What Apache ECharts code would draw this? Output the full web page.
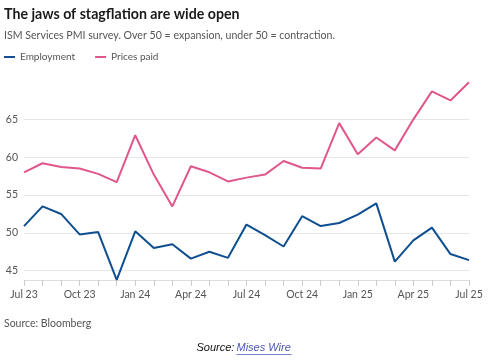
<!DOCTYPE html>
<html>
<head>
<meta charset="utf-8">
<script src="https://cdn.jsdelivr.net/npm/echarts@6/dist/echarts.min.js"></script>
<style>
html,body{margin:0;padding:0;background:#fff;}
#chart{width:488px;height:364px;}
</style>
</head>
<body>
<div id="chart"></div>
<script>
const months = ["Jul 23","Aug 23","Sep 23","Oct 23","Nov 23","Dec 23","Jan 24","Feb 24","Mar 24","Apr 24","May 24","Jun 24","Jul 24","Aug 24","Sep 24","Oct 24","Nov 24","Dec 24","Jan 25","Feb 25","Mar 25","Apr 25","May 25","Jun 25","Jul 25"];
const employment = [50.9,53.5,52.5,49.8,50.1,43.8,50.2,48.0,48.5,46.6,47.5,46.7,51.1,49.7,48.2,52.2,50.9,51.3,52.4,53.9,46.2,49.0,50.7,47.2,46.4];
const pricesPaid = [58.0,59.2,58.7,58.5,57.8,56.7,62.9,57.7,53.5,58.8,58.0,56.8,57.3,57.7,59.5,58.6,58.5,64.5,60.4,62.6,60.9,65.0,68.7,67.5,69.9];
const yTicks = [45,50,55,60,65];

const FONT = "Lato, 'Open Sans', sans-serif";
const chart = echarts.init(document.getElementById('chart'), null, {renderer:'canvas'});
chart.setOption({
  animation:false,
  backgroundColor:'#fff',
  title:[
    {text:'The jaws of stagflation are wide open', left:4, top:7, padding:0,
     textStyle:{fontFamily:FONT, fontSize:14.2, fontWeight:'bold', color:'#1a1a1a'}},
    {text:'ISM Services PMI survey. Over 50 = expansion, under 50 = contraction.', left:4, top:30, padding:0,
     textStyle:{fontFamily:FONT, fontSize:10.6, fontWeight:'normal', color:'#555'}},
    {text:'Source: Bloomberg', left:4, top:318, padding:0,
     textStyle:{fontFamily:FONT, fontSize:10.5, fontWeight:'normal', color:'#555'}}
  ],
  graphic:[
    {type:'group', left:'center', top:342, children:[
      {type:'text', left:0, top:0, style:{text:'Source:', font:"italic 11px 'Liberation Sans', Arial, sans-serif", fill:'#111'}},
      {type:'text', left:40, top:0, style:{text:'Mises Wire', font:"italic 11px 'Liberation Sans', Arial, sans-serif", fill:'#4a58b0'}},
      {type:'rect', left:40, top:12, shape:{width:55, height:0.8}, style:{fill:'#4a58b0'}}
    ]}
  ],
  legend:{
    left:4, top:52, padding:0, itemWidth:11, itemHeight:2, itemGap:20, icon:'rect',
    textStyle:{fontFamily:FONT, fontSize:10, color:'#555'},
    data:['Employment','Prices paid']
  },
  grid:{left:24, right:19, top:81.5, bottom:84.2},
  xAxis:{
    type:'category', data:months, boundaryGap:false,
    axisLine:{show:true, lineStyle:{color:'#ddd', width:1}},
    axisTick:{show:true, interval:0, length:6, lineStyle:{color:'#ccc'}},
    axisLabel:{interval:2, color:'#555', fontFamily:FONT, fontSize:10.5, margin:9},
    splitLine:{show:false}
  },
  yAxis:{
    type:'value', min:43.8, max:70,
    axisLine:{show:false},
    axisTick:{show:false, customValues:yTicks},
    axisLabel:{customValues:yTicks, color:'#555', fontFamily:FONT, fontSize:10.5, margin:6},
    splitLine:{show:true, lineStyle:{color:'#e6e6e6', width:1}}
  },
  series:[
    {name:'Employment', type:'line', data:employment, symbol:'none',
     lineStyle:{color:'#0f4f8f', width:2}, itemStyle:{color:'#0f4f8f'}},
    {name:'Prices paid', type:'line', data:pricesPaid, symbol:'none',
     lineStyle:{color:'#e0578b', width:2}, itemStyle:{color:'#e0578b'}}
  ]
});
</script>
</body>
</html>
